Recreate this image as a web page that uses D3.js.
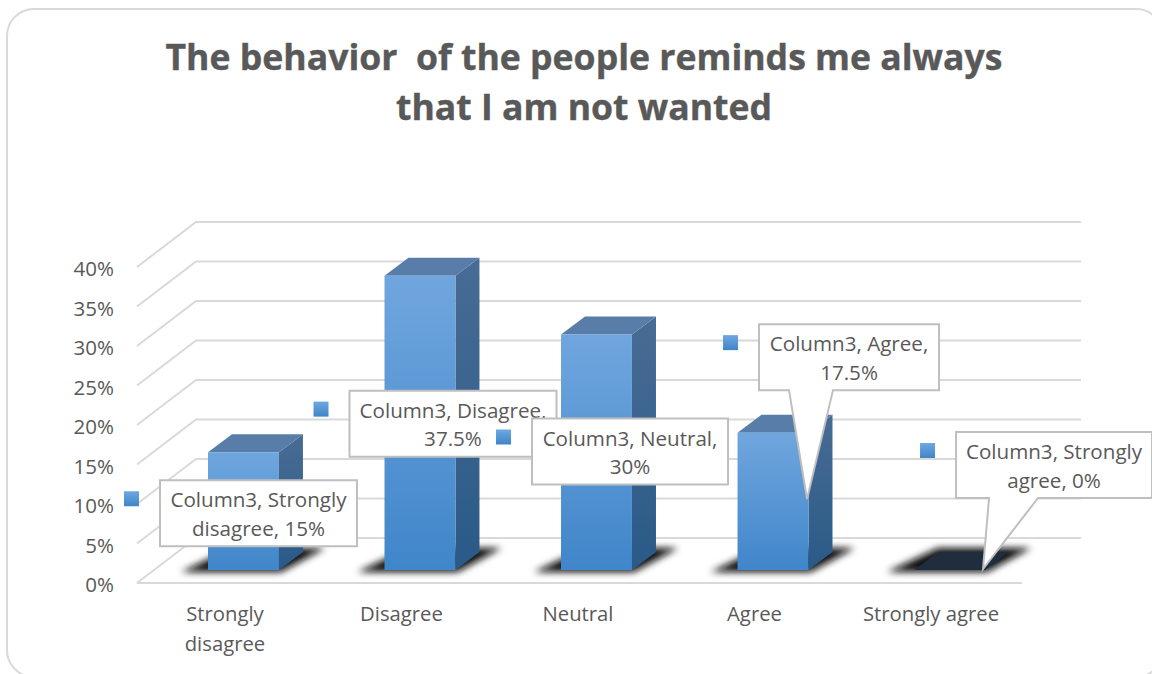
<!DOCTYPE html>
<html><head><meta charset="utf-8">
<style>html,body{margin:0;padding:0;background:#fff;overflow:hidden}svg{display:block}text{font-family:"Open Sans",sans-serif;fill:#595959;white-space:pre}</style>
<script src="https://cdn.jsdelivr.net/npm/d3@7/dist/d3.min.js"></script>
</head><body><svg id="c" width="1152" height="674"></svg>
<script>
const titleLines = ["The behavior  of the people reminds me always", "that I am not wanted"];
const categories = ["Strongly disagree", "Disagree", "Neutral", "Agree", "Strongly agree"];
const categoryLines = [["Strongly", "disagree"], ["Disagree"], ["Neutral"], ["Agree"], ["Strongly agree"]];
const values = [15, 37.5, 30, 17.5, 0];
const yTicks = [0, 5, 10, 15, 20, 25, 30, 35, 40];
const calloutLines = [
  ["Column3, Strongly", "disagree, 15%"],
  ["Column3, Disagree,", "37.5%"],
  ["Column3, Neutral,", "30%"],
  ["Column3, Agree,", "17.5%"],
  ["Column3, Strongly", "agree, 0%"]
];

const svg = d3.select("#c");
const defs = svg.append("defs");
function grad(id, a, b) {
  const g = defs.append("linearGradient").attr("id", id).attr("x1", 0).attr("y1", 0).attr("x2", 0).attr("y2", 1);
  g.append("stop").attr("offset", 0).attr("stop-color", a);
  g.append("stop").attr("offset", 1).attr("stop-color", b);
}
grad("front", "#70a6de", "#4086ca");
grad("side", "#486c94", "#2a5a88");
grad("marker", "#6ea8e2", "#3f85c7");
defs.append("filter").attr("id", "blur").attr("x", "-30%").attr("y", "-60%").attr("width", "160%").attr("height", "220%")
  .append("feGaussianBlur").attr("stdDeviation", 3.5);

// frame
svg.append("rect").attr("x", 7).attr("y", 9).attr("width", 1156).attr("height", 668).attr("rx", 27)
  .attr("fill", "#fff").attr("stroke", "#d9d9d9").attr("stroke-width", 2);

// title
svg.append("g").selectAll("text").data(titleLines).join("text")
  .attr("x", 584).attr("y", (d, i) => 70 + i * 50).attr("text-anchor", "middle")
  .attr("font-size", 35.6).attr("font-weight", 700).attr("stroke", "#595959").attr("stroke-width", 0.4).text(d => d);

// walls: back-wall value scale, and front edge offset by the 3D depth
const wallDepth = { dx: 59, dy: 45 };
const wallY = d3.scaleLinear().domain([0, 40]).range([538, 222]);
const wallLeft = 196, wallRight = 1081;
const grid = svg.append("g").attr("fill", "none").attr("stroke", "#d9d9d9").attr("stroke-width", 2);
grid.selectAll("path").data(yTicks).join("path")
  .attr("d", v => `M${wallLeft - wallDepth.dx},${wallY(v) + wallDepth.dy}L${wallLeft},${wallY(v)}L${wallRight},${wallY(v)}`);
grid.append("path").attr("d", `M${wallLeft - wallDepth.dx},${wallY(0) + wallDepth.dy}H${wallRight - wallDepth.dx}`);

svg.append("g").selectAll("text").data(yTicks).join("text")
  .attr("x", 114).attr("y", v => wallY(v) + wallDepth.dy + 9).attr("text-anchor", "end")
  .attr("font-size", 20.5).text(v => v + "%");

// bars
const x = d3.scaleBand().domain(categories).range([208, 985]).paddingInner(0.598).paddingOuter(0);
const barY = d3.scaleLinear().domain([0, 40]).range([570, 256]);
const depth = { dx: 24, dy: 18 };
const bars = svg.append("g").selectAll("g").data(categories.map((c, i) => ({ c, v: values[i] }))).join("g");
const poly = pts => "M" + pts.map(p => p.join(",")).join("L") + "Z";
bars.append("path").attr("filter", "url(#blur)").attr("fill", "#111")
  .attr("d", d => { const a = x(d.c), b = a + x.bandwidth(), y0 = barY(0);
    return poly([[a - 27, y0 + 2], [b + 2, y0 + 2], [b + 46, y0 - 22], [a + 24, y0 - 22]]); });
bars.filter(d => d.v > 0).append("path").attr("fill", "url(#side)")
  .attr("d", d => { const b = x(d.c) + x.bandwidth();
    return poly([[b, barY(d.v)], [b + depth.dx, barY(d.v) - depth.dy], [b + depth.dx, barY(0) - depth.dy], [b, barY(0)]]); });
bars.append("path").attr("fill", d => d.v > 0 ? "#587da8" : "#1f2d3f")
  .attr("d", d => { const a = x(d.c), b = a + x.bandwidth(), t = barY(d.v);
    return poly([[a, t], [b, t], [b + depth.dx, t - depth.dy], [a + depth.dx, t - depth.dy]]); });
bars.filter(d => d.v > 0).append("rect").attr("fill", "url(#front)")
  .attr("x", d => x(d.c)).attr("y", d => barY(d.v)).attr("width", x.bandwidth()).attr("height", d => barY(0) - barY(d.v));

// category labels
const cats = svg.append("g").selectAll("g").data(categories).join("g");
cats.selectAll("text").data((c, i) => categoryLines[i].map(t => ({ t, c }))).join("text")
  .attr("x", d => x(d.c) + x.bandwidth() / 2 - 18.5).attr("y", (d, i) => 621 + i * 30)
  .attr("text-anchor", "middle").attr("font-size", 20.3).text(d => d.t);

// callouts (manually dragged labels in the source): placed relative to each bar's top-left
const calloutPlacement = [
  { dx: -48, dy: 28, w: 197 },
  { dx: -35, dy: 115, w: 207 },
  { dx: -29, dy: 84, w: 196 },
  { dx: 21.5, dy: -108.5, w: 180, ptr: [30, 74, 48, 109] },
  { dx: 42, dy: -138, w: 196, ptr: [33, 82, 27, 71] }
];
const boxH = 66;
const callouts = svg.append("g").selectAll("g").data(categories).join("g")
  .attr("transform", (c, i) => `translate(${x(c) + calloutPlacement[i].dx},${barY(values[i]) + calloutPlacement[i].dy})`);
callouts.append("path").attr("fill", "#fff").attr("stroke", "#bfbfbf").attr("stroke-width", 2)
  .attr("d", (c, i) => {
    const p = calloutPlacement[i], w = p.w;
    if (!p.ptr) return `M0,0H${w}V${boxH}H0Z`;
    return `M0,0H${w}V${boxH}H${p.ptr[1]}L${p.ptr[2]},${boxH + p.ptr[3]}L${p.ptr[0]},${boxH}H0Z`;
  });
callouts.selectAll("text").data((c, i) => calloutLines[i].map(t => ({ t, w: calloutPlacement[i].w }))).join("text")
  .attr("x", d => d.w / 2).attr("y", (d, i) => 27 + i * 28.5).attr("text-anchor", "middle")
  .attr("font-size", 20.6).text(d => d.t);
callouts.append("rect").attr("x", -36).attr("y", 11).attr("width", 15).attr("height", 15).attr("fill", "url(#marker)");
</script></body></html>
